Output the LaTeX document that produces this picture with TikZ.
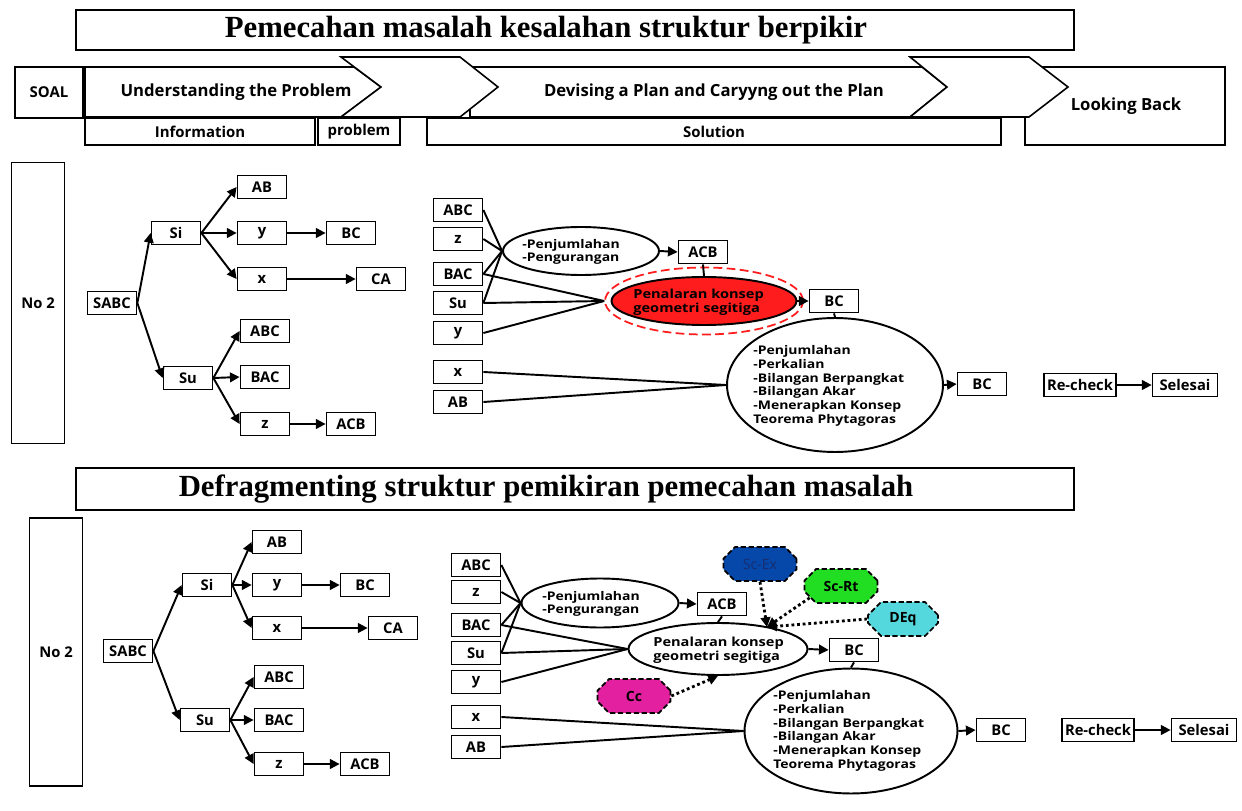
\documentclass[tikz,border=0pt]{standalone}
\usepackage{fontspec}
\setmainfont{Open Sans}
\newfontfamily\titlefont{Liberation Serif}
\newfontfamily\ovalfont[FakeStretch=1.17]{Open Sans}
\usetikzlibrary{arrows.meta,shapes.geometric,shapes.misc}
\definecolor{redfill}{RGB}{255,28,28}
\definecolor{exblue}{RGB}{5,72,170}
\definecolor{extext}{RGB}{25,45,110}
\definecolor{rtgreen}{RGB}{34,222,34}
\definecolor{eqcyan}{RGB}{85,215,222}
\definecolor{ccpink}{RGB}{226,32,160}
\tikzset{
 titlebox/.style={draw,line width=0.9pt,minimum width=19.96cm,minimum height=0.8cm,inner sep=0pt},
 titletext/.style={font=\titlefont\fontsize{17.5}{19}\selectfont\bfseries},
 hshape/.style={draw,line width=0.9pt,fill=white},
 htext/.style={font=\fontsize{9.5}{11}\selectfont\bfseries},
 subtext/.style={font=\fontsize{8.5}{10}\selectfont\bfseries},
 box/.style={draw,line width=1pt,fill=white,minimum width=0.98cm,minimum height=0.46cm,inner sep=0pt,font=\fontsize{8.4}{9}\selectfont\bfseries},
 oval/.style={draw,ellipse,line width=1.1pt,inner sep=0pt},
 ovaltext/.style={anchor=west,inner sep=0pt,align=left,font=\ovalfont\fontsize{6.8}{7.8}\selectfont\bfseries},
 reasontext/.style={ovaltext,font=\ovalfont\fontsize{7.1}{7.9}\selectfont\bfseries},
 oct/.style={draw,chamfered rectangle,chamfered rectangle sep=0.13cm,line width=1pt,dash pattern=on 3pt off 1.5pt,minimum width=1.46cm,minimum height=0.68cm,inner sep=0pt,font=\fontsize{8}{9}\selectfont\bfseries},
 arr/.style={line width=1.1pt,-{Triangle[length=5.5pt,width=5.5pt]}},
 link/.style={line width=1.1pt},
 dotarr/.style={line width=1.6pt,dash pattern=on 1.6pt off 1.6pt,-{Triangle[length=5.5pt,width=5.5pt]}}
}
\begin{document}
\begin{tikzpicture}[x=0.02cm,y=-0.02cm]
\useasboundingbox (0,0) rectangle (1242,811);
% header
\node[titlebox] (title1) at (575,30) {};
\node[titletext] (title1text) at (546,30) {Pemecahan masalah kesalahan struktur berpikir};
\node[box,minimum width=1.36cm,minimum height=1.02cm,font=\fontsize{8.5}{10}\selectfont\bfseries] (soal) at (49,92.5) {SOAL};
\draw[hshape] (1025,67) rectangle (1225,145);
\draw[hshape] (85,67) -- (354,67) -- (381,87) -- (341,117) -- (85,117) -- cycle;
\draw[hshape] (470,67) -- (922,67) -- (947,87) -- (910,117) -- (470,117) -- cycle;
\draw[hshape] (341,57) -- (460,57) -- (498,87) -- (460,117) -- (341,117) -- (381,87) -- cycle;
\draw[hshape] (910,57) -- (1029,57) -- (1068,87) -- (1029,117) -- (910,117) -- (947,87) -- cycle;
\node[htext] (understand) at (236,92) {Understanding the Problem};
\node[htext] (devise) at (714,92) {Devising a Plan and Caryyng out the Plan};
\node[htext] (lookback) at (1126,106) {Looking Back};
\draw[hshape] (85,118) rectangle (315,145);
\draw[hshape] (318,118) rectangle (400,145);
\draw[hshape] (427,118) rectangle (1001,145);
\node[subtext] (info) at (200,131.5) {Information};
\node[subtext] (prob) at (359,131.5) {problem};
\node[subtext] (sol) at (714,131.5) {Solution};
% section 1
\node[box,minimum width=1.06cm,minimum height=5.62cm] (no1) at (38,303) {No 2};
\node[box] (sabc1) at (112,303) {SABC};
\node[box] (si1) at (176,233) {Si};
\node[box] (su1) at (188,378) {Su};
\node[box] (ab1) at (262,187) {AB};
\node[box] (y1) at (262,233) {y};
\node[box] (bc1) at (351,233) {BC};
\node[box] (x1) at (262,279) {x};
\node[box] (ca1) at (381,279) {CA};
\node[box] (abc1) at (265,331) {ABC};
\node[box] (bac1) at (265,377) {BAC};
\node[box] (z1) at (265,424) {z};
\node[box] (acb1) at (351,424) {ACB};
\foreach \a/\b in {sabc1/si1,sabc1/su1,si1/ab1,si1/y1,si1/x1,su1/abc1,su1/bac1,su1/z1,y1/bc1,x1/ca1,z1/acb1}
  \draw[arr] (\a.east) -- (\b.west);
\node[box] (pabc1) at (458,210) {ABC};
\node[box] (pz1) at (458,239) {z};
\node[box] (pbac1) at (458,274) {BAC};
\node[box] (psu1) at (458,303) {Su};
\node[box] (py1) at (458,333) {y};
\node[box] (px1) at (458,372) {x};
\node[box] (pab1) at (458,402) {AB};
\node[oval,minimum width=3.12cm,minimum height=0.96cm] (add1) at (581,251) {};
\node[ovaltext] (add1text) at (522,252) {-Penjumlahan\\-Pengurangan};
\node[box] (acbr1) at (703,252) {ACB};
\node[draw=redfill,ellipse,line width=1pt,dash pattern=on 5pt off 2.5pt,minimum width=3.96cm,minimum height=1.34cm] (ring1) at (704,301) {};
\node[oval,fill=redfill,minimum width=3.7cm,minimum height=0.96cm] (reason1) at (704,301) {};
\node[reasontext] (reason1text) at (633,302) {Penalaran konsep\\geometri segitiga};
\node[box] (bcr1) at (834,301) {BC};
\node[oval,minimum width=4.32cm,minimum height=2.68cm] (calc1) at (835,385) {};
\node[ovaltext] (calc1text) at (753,386) {-Penjumlahan\\-Perkalian\\-Bilangan Berpangkat\\-Bilangan Akar\\-Menerapkan Konsep\\Teorema Phytagoras};
\node[box] (bcend1) at (982,384) {BC};
\node[box,minimum width=1.44cm] (recheck1) at (1080,385) {Re-check};
\node[box,minimum width=1.3cm] (done1) at (1185,385) {Selesai};
\foreach \a in {pabc1,pz1,pbac1,psu1}
  \draw[link] (\a.east) -- (add1.west);
\foreach \a in {pbac1,psu1,py1}
  \draw[link] (\a.east) -- (ring1.west);
\foreach \a in {px1,pab1}
  \draw[link] (\a.east) -- (calc1.west);
\draw[arr] (add1.east) -- (acbr1.west);
\draw[link] (acbr1.south) -- (reason1.north);
\draw[arr] (reason1.east) -- (bcr1.west);
\draw[link] (bcr1.south) -- (calc1.north);
\draw[arr] (calc1.east) -- (bcend1.west);
\draw[arr] (recheck1.east) -- (done1.west);
% section 2
\node[titlebox,minimum height=0.84cm] (title2) at (575,489) {};
\node[titletext] (title2text) at (546,489) {Defragmenting struktur pemikiran pemecahan masalah};
\node[box,minimum width=1.06cm,minimum height=5.36cm] (no2) at (56,652) {No 2};
\node[box] (sabc2) at (128,651) {SABC};
\node[box] (si2) at (207,585) {Si};
\node[box] (su2) at (205,720) {Su};
\node[box] (ab2) at (277,542) {AB};
\node[box] (y2) at (277,585) {y};
\node[box] (bc2) at (365,585) {BC};
\node[box] (x2) at (277,628) {x};
\node[box] (ca2) at (393,628) {CA};
\node[box] (abc2) at (279,677) {ABC};
\node[box] (bac2) at (279,720) {BAC};
\node[box] (z2) at (279,764) {z};
\node[box] (acb2) at (365,764) {ACB};
\foreach \a/\b in {sabc2/si2,sabc2/su2,si2/ab2,si2/y2,si2/x2,su2/abc2,su2/bac2,su2/z2,y2/bc2,x2/ca2,z2/acb2}
  \draw[arr] (\a.east) -- (\b.west);
\node[box] (pabc2) at (476,565) {ABC};
\node[box] (pz2) at (476,592) {z};
\node[box] (pbac2) at (476,625) {BAC};
\node[box] (psu2) at (476,653) {Su};
\node[box] (py2) at (476,682) {y};
\node[box] (px2) at (476,717) {x};
\node[box] (pab2) at (476,747) {AB};
\node[oval,minimum width=3.14cm,minimum height=0.98cm] (add2) at (600,603) {};
\node[ovaltext] (add2text) at (542,604) {-Penjumlahan\\-Pengurangan};
\node[box] (acbr2) at (722,604) {ACB};
\node[oval,minimum width=3.58cm,minimum height=1.04cm] (reason2) at (718,649) {};
\node[reasontext] (reason2text) at (653,650) {Penalaran konsep\\geometri segitiga};
\node[box] (bcr2) at (854,650) {BC};
\node[oval,minimum width=4.26cm,minimum height=2.5cm] (calc2) at (851,731) {};
\node[ovaltext] (calc2text) at (773,731) {-Penjumlahan\\-Perkalian\\-Bilangan Berpangkat\\-Bilangan Akar\\-Menerapkan Konsep\\Teorema Phytagoras};
\node[box] (bcend2) at (1001,730) {BC};
\node[box,minimum width=1.44cm] (recheck2) at (1098,730) {Re-check};
\node[box,minimum width=1.3cm] (done2) at (1204,730) {Selesai};
\node[oct,fill=exblue,text=extext,font=\fontsize{8}{9}\selectfont] (scex) at (760,564) {Sc-Ex};
\node[oct,fill=rtgreen] (scrt) at (841,586) {Sc-Rt};
\node[oct,fill=eqcyan,minimum width=1.4cm] (deq) at (903,619) {DEq};
\node[oct,fill=ccpink] (cc) at (634,696) {Cc};
\coordinate (hit) at (767,627);
\foreach \a in {pabc2,pz2,pbac2,psu2}
  \draw[link] (\a.east) -- (add2.west);
\foreach \a in {pbac2,psu2,py2}
  \draw[link] (\a.east) -- (reason2.west);
\foreach \a in {px2,pab2}
  \draw[link] (\a.east) -- (calc2.west);
\draw[arr] (add2.east) -- (acbr2.west);
\draw[link] (acbr2.south) -- (reason2.north);
\draw[arr] (reason2.east) -- (bcr2.west);
\draw[link] (bcr2.south) -- (calc2.north);
\draw[arr] (calc2.east) -- (bcend2.west);
\draw[arr] (recheck2.east) -- (done2.west);
\draw[dotarr] (scex.south) -- (hit);
\draw[dotarr] (scrt.south west) -- (hit);
\draw[dotarr] (deq.west) -- (hit);
\draw[dotarr] (cc.east) -- (reason2.south);
\end{tikzpicture}
\end{document}
